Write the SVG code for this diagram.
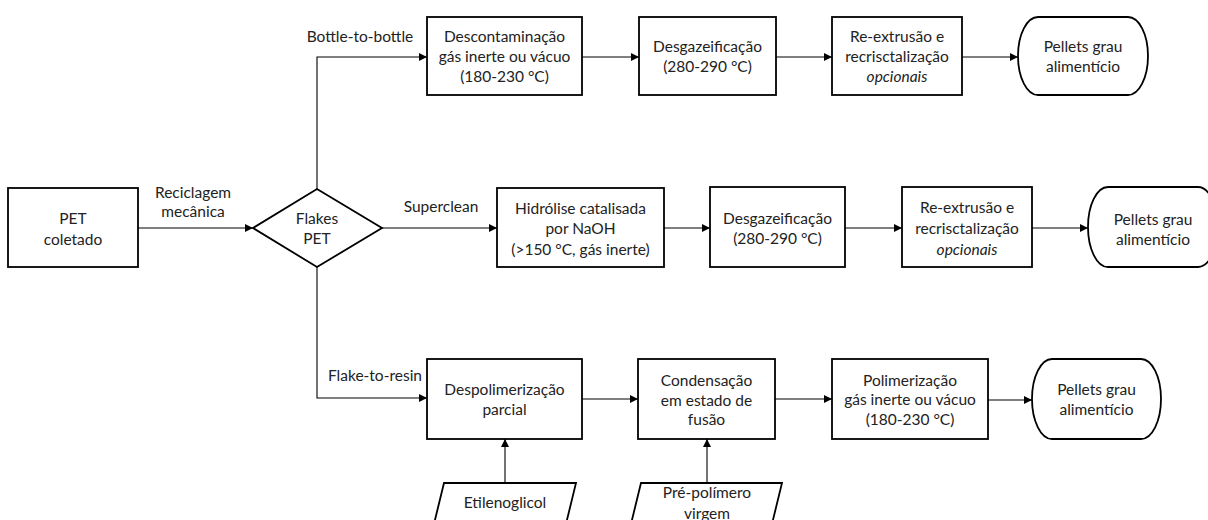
<svg xmlns="http://www.w3.org/2000/svg" width="1208" height="520" viewBox="0 0 1208 520">
  <defs>
    <marker id="arrow" viewBox="0 0 10 10" refX="10" refY="5" markerWidth="9" markerHeight="8" markerUnits="userSpaceOnUse" orient="auto">
      <path d="M0,0 L10,5 L0,10 Z" fill="#000"/>
    </marker>
    <style>
      .box { fill: #fff; stroke: #000; stroke-width: 1.8; }
      .conn { fill: none; stroke: #000; stroke-width: 1.1; marker-end: url(#arrow); }
      text { font-family: Lato, "Liberation Sans", sans-serif; font-size: 15.5px; fill: #222; text-anchor: middle; }
      .it { font-style: italic; }
    </style>
  </defs>

  <rect width="1208" height="520" fill="#fff"/>

  <!-- connectors -->
  <g id="connectors">
    <path class="conn" d="M138,228 H253"/>
    <path class="conn" d="M317,189 V57 H427"/>
    <path class="conn" d="M582,57 H639"/>
    <path class="conn" d="M776,57 H832"/>
    <path class="conn" d="M962,57 H1018"/>
    <path class="conn" d="M382,228 H497"/>
    <path class="conn" d="M664,228 H710"/>
    <path class="conn" d="M845,228 H902"/>
    <path class="conn" d="M1032,228 H1088"/>
    <path class="conn" d="M317,267 V398 H427"/>
    <path class="conn" d="M582,399 H638"/>
    <path class="conn" d="M775,399 H832"/>
    <path class="conn" d="M988,400 H1032"/>
    <path class="conn" d="M505,483 V439"/>
    <path class="conn" d="M707,483 V439"/>
    <text x="193" y="198">Reciclagem</text>
    <text x="193" y="217">mecânica</text>
    <text x="360" y="42">Bottle-to-bottle</text>
    <text x="441" y="212">Superclean</text>
    <text x="375" y="381">Flake-to-resin</text>
  </g>

  <!-- source -->
  <g id="pet-coletado">
    <rect class="box" x="8" y="188" width="130" height="79"/>
    <text x="73" y="224">PET</text>
    <text x="73" y="245">coletado</text>
  </g>

  <g id="flakes-pet">
    <polygon class="box" points="317,189 382,228 317,267 253,228"/>
    <text x="317" y="224">Flakes</text>
    <text x="317" y="244">PET</text>
  </g>

  <!-- bottle-to-bottle route -->
  <g id="descontaminacao">
    <rect class="box" x="427" y="17" width="155" height="78"/>
    <text x="504.5" y="42">Descontaminação</text>
    <text x="504.5" y="62">gás inerte ou vácuo</text>
    <text x="504.5" y="82">(180-230 °C)</text>
  </g>
  <g id="desgazeificacao-1">
    <rect class="box" x="639" y="17" width="137" height="78"/>
    <text x="707.5" y="52">Desgazeificação</text>
    <text x="707.5" y="72">(280-290 °C)</text>
  </g>
  <g id="reextrusao-1">
    <rect class="box" x="832" y="17" width="130" height="78"/>
    <text x="897" y="42">Re-extrusão e</text>
    <text x="897" y="62">recrisctalização</text>
    <text class="it" x="897" y="82">opcionais</text>
  </g>
  <g id="pellets-1">
    <rect class="box" x="1018" y="17" width="130" height="78" rx="20" ry="39"/>
    <text x="1083" y="52">Pellets grau</text>
    <text x="1083" y="72">alimentício</text>
  </g>

  <!-- superclean route -->
  <g id="hidrolise">
    <rect class="box" x="497" y="188" width="167" height="79"/>
    <text x="580.5" y="214">Hidrólise catalisada</text>
    <text x="580.5" y="234">por NaOH</text>
    <text x="580.5" y="255">(&gt;150 °C, gás inerte)</text>
  </g>
  <g id="desgazeificacao-2">
    <rect class="box" x="710" y="187" width="135" height="80"/>
    <text x="777.5" y="224">Desgazeificação</text>
    <text x="777.5" y="244">(280-290 °C)</text>
  </g>
  <g id="reextrusao-2">
    <rect class="box" x="902" y="187" width="130" height="80"/>
    <text x="967" y="213">Re-extrusão e</text>
    <text x="967" y="234">recrisctalização</text>
    <text class="it" x="967" y="255">opcionais</text>
  </g>
  <g id="pellets-2">
    <rect class="box" x="1088" y="187" width="130" height="80" rx="20" ry="40"/>
    <text x="1153" y="225">Pellets grau</text>
    <text x="1153" y="245">alimentício</text>
  </g>

  <!-- flake-to-resin route -->
  <g id="despolimerizacao">
    <rect class="box" x="427" y="359" width="155" height="80"/>
    <text x="504.5" y="395">Despolimerização</text>
    <text x="504.5" y="415">parcial</text>
  </g>
  <g id="condensacao">
    <rect class="box" x="638" y="359" width="137" height="80"/>
    <text x="706.5" y="386">Condensação</text>
    <text x="706.5" y="406">em estado de</text>
    <text x="706.5" y="425">fusão</text>
  </g>
  <g id="polimerizacao">
    <rect class="box" x="832" y="359" width="156" height="80"/>
    <text x="910" y="386">Polimerização</text>
    <text x="910" y="405">gás inerte ou vácuo</text>
    <text x="910" y="425">(180-230 °C)</text>
  </g>
  <g id="pellets-3">
    <rect class="box" x="1032" y="359" width="129" height="80" rx="20" ry="40"/>
    <text x="1096.5" y="395">Pellets grau</text>
    <text x="1096.5" y="415">alimentício</text>
  </g>

  <!-- inputs -->
  <g id="etilenoglicol">
    <polygon class="box" points="444,483 576,483 565,528 433,528"/>
    <text x="505" y="508">Etilenoglicol</text>
  </g>
  <g id="pre-polimero">
    <polygon class="box" points="641,483 782,483 771,528 630,528"/>
    <text x="707" y="498">Pré-polímero</text>
    <text x="707" y="519">virgem</text>
  </g>
</svg>
